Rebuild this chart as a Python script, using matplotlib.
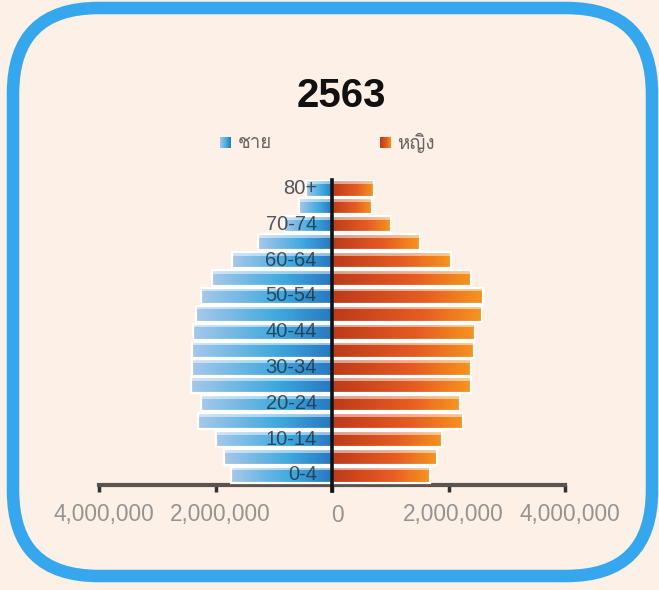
import numpy as np
import matplotlib
matplotlib.use("Agg")
import matplotlib.pyplot as plt
from matplotlib import font_manager
from matplotlib.ft2font import FT2Font
from matplotlib.colors import LinearSegmentedColormap
from matplotlib.patches import FancyBboxPatch
import matplotlib.transforms as mtransforms

# ---------------- data ----------------
age_groups = ["0-4", "5-9", "10-14", "15-19", "20-24", "25-29", "30-34", "35-39",
              "40-44", "45-49", "50-54", "55-59", "60-64", "65-69", "70-74", "75-79", "80+"]
male = [1730000, 1850000, 2000000, 2300000, 2250000, 2420000, 2400000, 2400000,
        2390000, 2340000, 2250000, 2060000, 1720000, 1270000, 820000, 560000, 450000]
female = [1690000, 1800000, 1890000, 2250000, 2190000, 2380000, 2380000, 2440000,
          2450000, 2570000, 2590000, 2380000, 2040000, 1510000, 1010000, 680000, 720000]
shown_labels = ["0-4", "10-14", "20-24", "30-34", "40-44", "50-54", "60-64", "70-74", "80+"]
xticks = [-4000000, -2000000, 0, 2000000, 4000000]
xtick_labels = ["4,000,000", "2,000,000", "0", "2,000,000", "4,000,000"]
title = "2563"
legend_labels = ["ชาย", "หญิง"]

# ---------------- fonts ----------------
def find_thai_font():
    prefs = []
    for f in font_manager.fontManager.ttflist:
        try:
            ft = FT2Font(f.fname)
            if ft.get_char_index(ord("ช")) and ft.get_char_index(ord("ญ")):
                prefs.append(f.name)
        except Exception:
            pass
    return prefs[0] if prefs else None

thai = find_thai_font()
base = "Liberation Sans"
fam = [base] + ([thai] if thai else []) + ["DejaVu Sans"]
plt.rcParams["font.family"] = fam

BG = "#fdf0e6"
W, H = 659, 590
fig = plt.figure(figsize=(W / 100, H / 100), dpi=100, facecolor=BG)

# rounded frame
frame = FancyBboxPatch((13 / W, 14 / H), (652 - 13) / W, (582 - 14) / H,
                       boxstyle="round,pad=0,rounding_size=0.13",
                       transform=fig.transFigure, facecolor="none",
                       edgecolor="#35a7ee", linewidth=9, zorder=-10,
                       mutation_aspect=W / H)
fig.patches.append(frame)

ax = fig.add_axes([99 / W, 1 - 485 / H, (565 - 99) / W, (485 - 179.5) / H])
ax.set_facecolor("none")

y = np.arange(len(age_groups))
male_cmap = LinearSegmentedColormap.from_list(
    "m", [(0, "#a6c8ea"), (0.6, "#3fa9de"), (1, "#2878c0")])
female_cmap = LinearSegmentedColormap.from_list(
    "f", [(0, "#bd3a1a"), (0.6, "#e65c22"), (1, "#f7951e")])
grad = np.linspace(0, 1, 256).reshape(1, -1)

bh = 0.9
mbars = ax.barh(y, [-v for v in male], height=bh, color="#3fa9de", zorder=2)
fbars = ax.barh(y, female, height=bh, color="#e65c22", zorder=2)
for bars, cmap in ((mbars, male_cmap), (fbars, female_cmap)):
    for p in bars:
        x0, y0, w, h = p.get_x(), p.get_y(), p.get_width(), p.get_height()
        xa, xb = sorted([x0, x0 + w])
        im = ax.imshow(grad, extent=[xa, xb, y0, y0 + h], aspect="auto",
                       cmap=cmap, zorder=3, interpolation="bicubic")
        im.set_clip_path(p)
# pale top strip and white outline
ax.barh(y + bh / 2 - 0.1, [-v for v in male], height=0.2, color="white",
        alpha=0.5, zorder=4, linewidth=0)
ax.barh(y + bh / 2 - 0.1, female, height=0.2, color="white",
        alpha=0.5, zorder=4, linewidth=0)
ax.barh(y, [-v for v in male], height=bh, fill=False, edgecolor="white",
        linewidth=1.6, zorder=5)
ax.barh(y, female, height=bh, fill=False, edgecolor="white",
        linewidth=1.6, zorder=5)

ax.axvline(0, color="#111111", linewidth=2.6, zorder=6, ymin=-0.02, ymax=1,
           clip_on=False)

for lab in shown_labels:
    i = age_groups.index(lab)
    ax.text(-260000, i, lab, ha="right", va="center", fontsize=14.5,
            color="#22303c", alpha=0.8, zorder=7)

ax.set_xlim(-4000000, 4000000)
ax.set_ylim(-0.56, 16.5)
ax.set_xticks(xticks)
ax.set_xticklabels([])
shift = mtransforms.ScaledTranslation(5 / 100, -30 / 100, fig.dpi_scale_trans)
for xv, lab in zip(xticks, xtick_labels):
    ax.text(xv, 0, lab, transform=ax.get_xaxis_transform() + shift,
            ha="center", va="center", fontsize=16.3, color="#969390",
            clip_on=False)
ax.set_yticks([])
for s in ("top", "right", "left"):
    ax.spines[s].set_visible(False)
ax.spines["bottom"].set_color("#5a5350")
ax.spines["bottom"].set_linewidth(3)
ax.tick_params(axis="x", direction="out", length=5, width=2.5, color="#333333")

fig.text(341 / W, 1 - 96 / H, title, ha="center", va="center", fontsize=29,
         fontweight="bold", color="#111111")

# legend
for (x_sq, x_txt, lab, cmap) in ((220, 238, legend_labels[0], male_cmap),
                                  (380, 397, legend_labels[1], female_cmap)):
    lax = fig.add_axes([x_sq / W, 1 - 148 / H, 11 / W, 11 / H])
    lax.imshow(grad, aspect="auto", cmap=cmap, extent=[0, 1, 0, 1])
    lax.axis("off")
    fig.text(x_txt / W, 1 - 143 / H, lab, ha="left", va="center",
             fontsize=13.5, color="#6a6462")

fig.savefig("out.png", dpi=100, facecolor=BG)
